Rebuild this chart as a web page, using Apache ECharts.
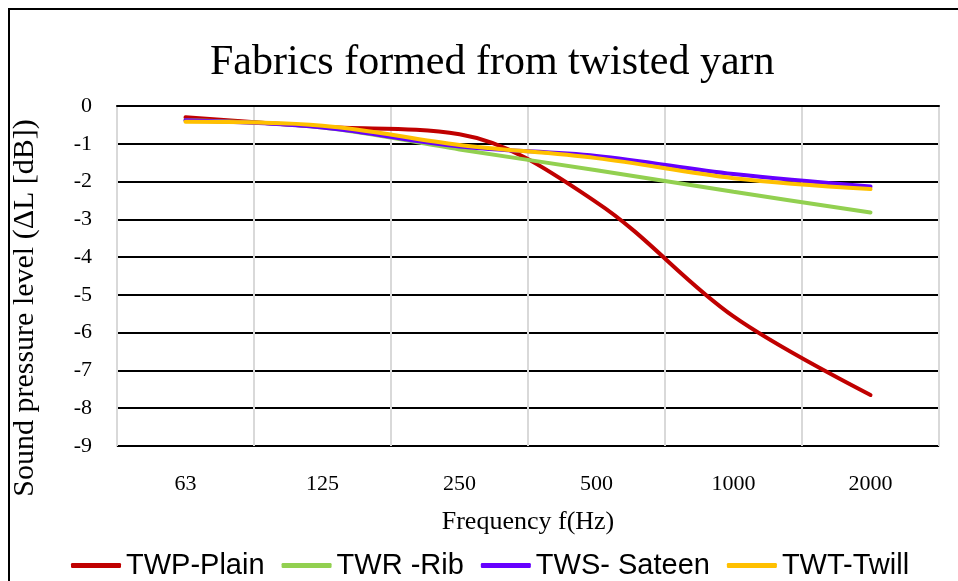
<!DOCTYPE html>
<html>
<head>
<meta charset="utf-8">
<script src="https://cdn.jsdelivr.net/npm/echarts@6/dist/echarts.min.js"></script>
<style>
  html, body { margin: 0; padding: 0; background: #fff; }
  #chart { width: 958px; height: 581px; }
</style>
</head>
<body>
<div id="chart"></div>
<script>
// Frequency bands (Hz)
const frequencies = ['63', '125', '250', '500', '1000', '2000'];

// Sound pressure level change ΔL [dB] per fabric
const twpPlain  = [-0.30, -0.55, -0.75, -2.55, -5.57, -7.65];
const twrRib    = [-0.38, -0.57, -1.15, -1.70, -2.27, -2.82];
const twsSateen = [-0.38, -0.57, -1.07, -1.32, -1.80, -2.13];
const twtTwill  = [-0.42, -0.52, -1.03, -1.38, -1.91, -2.20];

const seriesNames = ['TWP-Plain', 'TWR -Rib', 'TWS- Sateen', 'TWT-Twill'];
const seriesColors = ['#c00000', '#92d050', '#6600ff', '#ffc000'];
const seriesData = [twpPlain, twrRib, twsSateen, twtTwill];

const yAxisTitle = 'Sound pressure level (ΔL [dB])';

const serif = '"Liberation Serif", "DejaVu Serif", serif';

// black split lines, except the top (0) line which stays light grey like the frame
const splitColors = ['#000', '#000', '#000', '#000', '#000', '#000', '#000', '#000', '#000', '#d9d9d9'];

const chart = echarts.init(document.getElementById('chart'));
chart.setOption({
  backgroundColor: '#fff',
  animation: false,
  title: {
    text: 'Fabrics formed from twisted yarn',
    left: 205,
    top: 37,
    textStyle: { fontFamily: serif, fontSize: 42, fontWeight: 'normal', color: '#000' }
  },
  graphic: [{
    type: 'rect',
    shape: { x: 9, y: 9, width: 1000, height: 700 },
    style: { fill: 'none', stroke: '#000', lineWidth: 2 },
    silent: true
  }, {
    type: 'text',
    x: 25,
    y: 308,
    rotation: Math.PI / 2,
    style: {
      text: yAxisTitle,
      font: '30px ' + serif,
      fill: '#000',
      align: 'center',
      verticalAlign: 'middle'
    },
    silent: true
  }],
  grid: {
    left: 117, right: 19, top: 106, bottom: 135,
    show: true, borderColor: '#d9d9d9', borderWidth: 2, backgroundColor: 'transparent'
  },
  legend: {
    top: 546,
    left: 66,
    icon: 'roundRect',
    itemWidth: 50,
    itemHeight: 5,
    itemGap: 17,
    data: seriesNames,
    textStyle: { fontFamily: '"Liberation Sans", sans-serif', fontSize: 29, color: '#000' }
  },
  xAxis: {
    type: 'category',
    data: frequencies,
    boundaryGap: true,
    name: 'Frequency f(Hz)',
    nameLocation: 'middle',
    nameGap: 63,
    nameTextStyle: { fontFamily: serif, fontSize: 26, color: '#000' },
    axisLine: { show: true, lineStyle: { color: '#000', width: 2 } },
    axisTick: { show: false },
    axisLabel: { fontFamily: serif, fontSize: 22, color: '#000', margin: 27 },
    splitLine: { show: true, lineStyle: { color: '#d9d9d9', width: 2 } }
  },
  yAxis: {
    type: 'value',
    min: -9, max: 0, interval: 1,
    axisLine: { show: false },
    axisTick: { show: false },
    axisLabel: { fontFamily: serif, fontSize: 22, color: '#000', margin: 25 },
    splitLine: { show: true, lineStyle: { color: splitColors, width: 2 } }
  },
  series: seriesData.map((d, i) => ({
    name: seriesNames[i],
    type: 'line',
    data: d,
    smooth: 0.35,
    symbol: 'none',
    color: seriesColors[i],
    lineStyle: { width: 4, color: seriesColors[i], cap: 'round' },
    z: 2 + i
  }))
});
</script>
</body>
</html>
